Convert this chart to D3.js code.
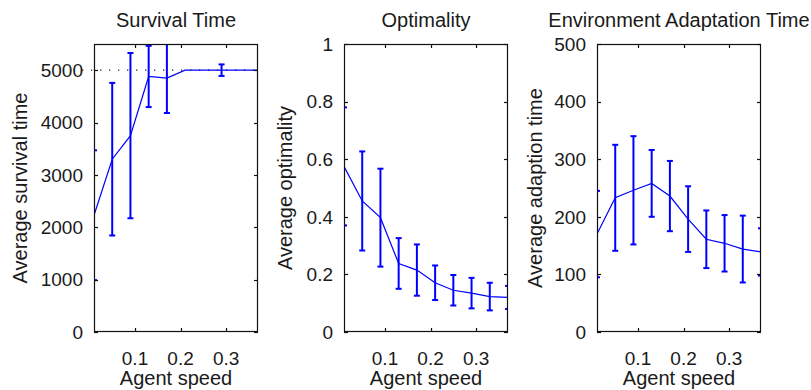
<!DOCTYPE html>
<html><head><meta charset="utf-8">
<script src="https://cdn.jsdelivr.net/npm/d3@7"></script>
<style>
body{margin:0;background:#fff;}
text{font-family:"Liberation Sans",Arial,sans-serif;fill:#1a1a1a;}
</style></head>
<body>
<svg id="chart" width="811" height="390"></svg>
<script>
const speeds = [0.01,0.05,0.09,0.13,0.17,0.21,0.25,0.29,0.33,0.37];
const xTicks = [0.1,0.2,0.3];

const survivalMean = [2230,3300,3750,4880,4850,5000,5000,5000,5000,5000];
const survivalErr  = [1240,1457,1578,585,668,0,0,110,0,0];
const survivalTicks = [0,1000,2000,3000,4000,5000];

const optimalityMean = [0.575,0.455,0.397,0.238,0.215,0.171,0.145,0.135,0.123,0.12];
const optimalityErr  = [0.205,0.172,0.17,0.088,0.089,0.06,0.053,0.053,0.048,0.04];
const optimalityTicks = [0,0.2,0.4,0.6,0.8,1];

const adaptMean = [170,233,246,258,236,196,161,154,144,139];
const adaptErr  = [75,92,94,58,61,57,50,49,58,41];
const adaptTicks = [0,100,200,300,400,500];

const titles = ["Survival Time","Optimality","Environment Adaptation Time"];
const yLabels = ["Average survival time","Average optimality","Average adaption time"];
const xLabel = "Agent speed";

(function(){
const svg = d3.select("#chart");
const plotTop = 44, plotBottom = 332, W = 164;

const panels = [
  {left:94, mean:survivalMean, err:survivalErr, ymax:5500, ticks:survivalTicks, fmt:d3.format("d"), labelX:27, refLine:5000},
  {left:344, mean:optimalityMean, err:optimalityErr, ymax:1, ticks:optimalityTicks, fmt:d=>d===0||d===1?String(d):d3.format(".1f")(d), labelX:292},
  {left:597, mean:adaptMean, err:adaptErr, ymax:500, ticks:adaptTicks, fmt:d3.format("d"), labelX:542}
];

panels.forEach((p,i)=>{
  const x = d3.scaleLinear().domain([0.01,0.37]).range([p.left, p.left+W]);
  const y = d3.scaleLinear().domain([0,p.ymax]).range([plotBottom, plotTop]);
  const g = svg.append("g");
  const clipId = "clip"+i;
  svg.append("clipPath").attr("id",clipId).append("rect")
    .attr("x",p.left).attr("y",plotTop).attr("width",W).attr("height",plotBottom-plotTop);

  if(p.refLine!==undefined){
    g.append("line").attr("x1",p.left-12).attr("x2",p.left+W)
      .attr("y1",y(p.refLine)).attr("y2",y(p.refLine))
      .attr("stroke","#222").attr("stroke-width",1.3).attr("stroke-dasharray","1.3,7.7");
  }

  const data = speeds.map((s,k)=>({s, m:p.mean[k], e:p.err[k]}));
  const pg = g.append("g").attr("clip-path",`url(#${clipId})`);
  pg.append("path").datum(data)
    .attr("d", d3.line().x(d=>x(d.s)).y(d=>y(d.m)))
    .attr("fill","none").attr("stroke","#0000ff").attr("stroke-width",1.2);
  const eb = pg.selectAll("g.eb").data(data.filter(d=>d.e>0)).join("g");
  eb.append("line").attr("x1",d=>x(d.s)).attr("x2",d=>x(d.s))
    .attr("y1",d=>y(d.m-d.e)).attr("y2",d=>y(d.m+d.e))
    .attr("stroke","#0000ff").attr("stroke-width",2);
  [1,-1].forEach(sg=>{
    eb.append("line").attr("x1",d=>x(d.s)-3).attr("x2",d=>x(d.s)+3)
      .attr("y1",d=>y(d.m+sg*d.e)).attr("y2",d=>y(d.m+sg*d.e))
      .attr("stroke","#0000ff").attr("stroke-width",2);
  });

  g.append("rect").attr("x",p.left+0.5).attr("y",plotTop+0.5).attr("width",W-1).attr("height",plotBottom-plotTop-1)
    .attr("fill","none").attr("stroke","#111").attr("stroke-width",1.2);

  const tk = g.append("g").attr("stroke","#111").attr("stroke-width",1.2);
  p.ticks.forEach(t=>{
    const yy = Math.round(y(t))+0.5;
    tk.append("line").attr("x1",p.left).attr("x2",p.left+4).attr("y1",yy).attr("y2",yy);
    tk.append("line").attr("x1",p.left+W-4).attr("x2",p.left+W).attr("y1",yy).attr("y2",yy);
  });
  xTicks.forEach(t=>{
    const xx = Math.round(x(t))+0.5;
    tk.append("line").attr("x1",xx).attr("x2",xx).attr("y1",plotBottom).attr("y2",plotBottom-4);
    tk.append("line").attr("x1",xx).attr("x2",xx).attr("y1",plotTop).attr("y2",plotTop+4);
  });

  g.selectAll("text.yt").data(p.ticks).join("text")
    .attr("x",p.left-11).attr("y",d=>y(d)).attr("dy","0.36em")
    .attr("text-anchor","end").attr("font-size",19).text(p.fmt);
  g.selectAll("text.xt").data(xTicks).join("text")
    .attr("x",d=>x(d)).attr("y",365)
    .attr("text-anchor","middle").attr("font-size",19).text(d3.format(".1f"));

  g.append("text").attr("x",p.left+W/2).attr("y",385).attr("text-anchor","middle")
    .attr("font-size",20).text(xLabel);
  g.append("text").attr("x",p.left+W/2).attr("y",27).attr("text-anchor","middle")
    .attr("font-size",20).text(titles[i]);
  g.append("text").attr("transform",`translate(${p.labelX},${(plotTop+plotBottom)/2}) rotate(-90)`)
    .attr("text-anchor","middle").attr("font-size",20).text(yLabels[i]);
});
})();
</script>
</body></html>
